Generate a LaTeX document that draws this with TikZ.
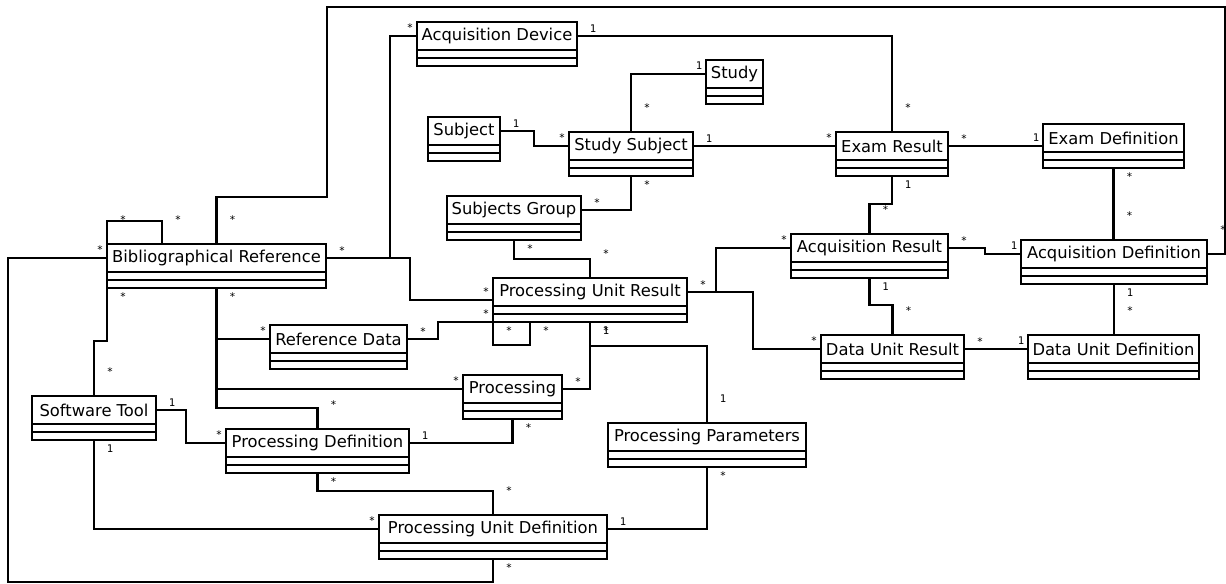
\documentclass[tikz,border=0pt]{standalone}
\usepackage{fontspec}
\setmainfont{DejaVu Sans}
\newfontfamily\multfont{DejaVu Sans Mono}

\begin{document}
\begin{tikzpicture}[x=0.02cm,y=-0.02cm,line width=1.2pt,
    font=\fontsize{9.3}{11}\selectfont,
    cw/.style={minimum width=#1*0.02cm},
    cls/.style={draw,anchor=north west,minimum height=0.56cm,inner sep=0pt,outer sep=0pt},
    comp/.style={draw,anchor=north,minimum height=0.32cm,inner sep=0pt,outer sep=0pt,
      path picture={\draw (path picture bounding box.west)--(path picture bounding box.east);}},
    mult/.style={inner sep=0pt,font=\multfont\fontsize{6}{7}\selectfont},
    mr/.style={mult,xshift=0.32cm,yshift=0.14cm},
    ml/.style={mult,xshift=-0.14cm,yshift=0.16cm},
    mb/.style={mult,xshift=0.32cm,yshift=-0.18cm},
    mt/.style={mult,xshift=0.32cm,yshift=0.48cm}]
    \useasboundingbox (0,0) rectangle (1226,583);
    % classes
    \node[cls,cw=160] (acqdev) at (417,22) {Acquisition Device};
    \node[comp,cw=160] (acqdevc) at (acqdev.south) {};
    \node[cls,cw=57] (study) at (706,60) {Study};
    \node[comp,cw=57] (studyc) at (study.south) {};
    \node[cls,cw=72] (subj) at (428,117) {Subject};
    \node[comp,cw=72] (subjc) at (subj.south) {};
    \node[cls,cw=124] (stsub) at (569,132) {Study Subject};
    \node[comp,cw=124] (stsubc) at (stsub.south) {};
    \node[cls,cw=112] (exres) at (836,132) {Exam Result};
    \node[comp,cw=112] (exresc) at (exres.south) {};
    \node[cls,cw=141] (exdef) at (1043,124) {Exam Definition};
    \node[comp,cw=141] (exdefc) at (exdef.south) {};
    \node[cls,cw=134] (sgroup) at (447,196) {Subjects Group};
    \node[comp,cw=134] (sgroupc) at (sgroup.south) {};
    \node[cls,cw=219] (bibref) at (107,244) {Bibliographical Reference};
    \node[comp,cw=219] (bibrefc) at (bibref.south) {};
    \node[cls,cw=157] (acqres) at (791,234) {Acquisition Result};
    \node[comp,cw=157] (acqresc) at (acqres.south) {};
    \node[cls,cw=186] (acqdef) at (1021,240) {Acquisition Definition};
    \node[comp,cw=186] (acqdefc) at (acqdef.south) {};
    \node[cls,cw=194] (pures) at (493,278) {Processing Unit Result};
    \node[comp,cw=194] (puresc) at (pures.south) {};
    \node[cls,cw=137] (refdata) at (270,325) {Reference Data};
    \node[comp,cw=137] (refdatac) at (refdata.south) {};
    \node[cls,cw=143] (dures) at (821,335) {Data Unit Result};
    \node[comp,cw=143] (duresc) at (dures.south) {};
    \node[cls,cw=171] (dudef) at (1028,335) {Data Unit Definition};
    \node[comp,cw=171] (dudefc) at (dudef.south) {};
    \node[cls,cw=99] (proc) at (463,375) {Processing};
    \node[comp,cw=99] (procc) at (proc.south) {};
    \node[cls,cw=124] (swtool) at (32,396) {Software Tool};
    \node[comp,cw=124] (swtoolc) at (swtool.south) {};
    \node[cls,cw=183] (pdef) at (226,429) {Processing Definition};
    \node[comp,cw=183] (pdefc) at (pdef.south) {};
    \node[cls,cw=198] (pparam) at (608,423) {Processing Parameters};
    \node[comp,cw=198] (pparamc) at (pparam.south) {};
    \node[cls,cw=228] (pudef) at (379,515) {Processing Unit Definition};
    \node[comp,cw=228] (pudefc) at (pudef.south) {};
    % associations
    \draw (bibref.north) |- node[mt,at start]{*} (327,197) |- (1225,7) |- node[mt,at end]{*} (acqdef.east);
    \draw (bibref.east) -- node[mr,at start]{*} ++(64,0) |- node[ml,at end]{*} (acqdev.west);
    \draw (bibref.east) -- ++(84,0) |- node[ml,at end]{*} ([yshift=-0.16cm]pures.west);
    \draw (bibref.north west) -- node[mt,at start]{*} ++(0,-23) -| node[mt,at end]{*} ([xshift=1.1cm]bibref.north west);
    \draw (bibref.west) -| node[ml,at start]{*} (8,582) -| node[mb,at end]{*} (pudefc.south);
    \draw (bibrefc.south west) -- node[mb,at start]{*} ++(0,53) -| node[mt,at end]{*} (swtool.north);
    \draw (bibrefc.south) |- node[mb,at start]{*} node[ml,at end]{*} (refdata.west);
    \draw (bibrefc.south) |- node[ml,at end]{*} (proc.west);
    \draw (bibrefc.south) -- ++(0,120) -| node[mt,at end]{*} (pdef.north);
    \draw (refdata.east) -- node[mr,at start]{*} ++(31,0) |- node[ml,at end]{*} (puresc.south west);
    \draw (puresc.south west) -- node[mb,at start]{*} ++(0,23) -| node[mb,at end]{*} ([xshift=0.74cm]puresc.south west);
    \draw (sgroupc.south) -- node[mb,at start]{*} ++(0,19) -| node[mt,at end]{*} (pures.north);
    \draw (sgroup.east) -| node[mr,at start]{*} node[mb,at end]{*} (stsubc.south);
    \draw (stsub.north) |- node[mt,at start]{*} node[ml,at end]{1} (study.west);
    \draw (subj.east) -- node[mr,at start]{1} ++(34,0) |- node[ml,at end]{*} (stsub.west);
    \draw (stsub.east) -- node[mr,at start]{1} node[ml,at end]{*} (exres.west);
    \draw (acqdev.east) -| node[mr,at start]{1} node[mt,at end]{*} (exres.north);
    \draw (exres.east) -- node[mr,at start]{*} node[ml,at end]{1} (exres.east -| exdef.west);
    \draw (exdefc.south) -- node[mb,at start]{*} node[mt,at end]{*} (exdefc.south |- acqdef.north);
    \draw (acqdefc.south) -- node[mb,at start]{1} node[mt,at end]{*} (acqdefc.south |- dudef.north);
    \draw (exresc.south) -- node[mb,at start]{1} ++(0,28) -| node[mt,at end]{*} (acqres.north);
    \draw (pures.east) -- node[mr,at start]{*} ++(29,0) |- node[ml,at end]{*} (acqres.west);
    \draw (pures.east) -- ++(66,0) |- node[ml,at end]{*} (dures.west);
    \draw (acqres.east) -- node[mr,at start]{*} ++(37,0) |- node[ml,at end]{1} (acqdef.west);
    \draw (acqresc.south) -- node[mb,at start]{1} ++(0,27) -| node[mt,at end]{*} (dures.north);
    \draw (dures.east) -- node[mr,at start]{*} node[ml,at end]{1} (dudef.west);
    \draw (puresc.south) |- node[mb,at start]{*} node[mr,at end]{*} (proc.east);
    \draw (puresc.south) -- node[mb,at start]{1} ++(0,24) -| node[mt,at end]{1} (pparam.north);
    \draw (procc.south) |- node[mb,at start]{*} node[mr,at end]{1} (pdef.east);
    \draw (swtool.east) -- node[mr,at start]{1} ++(30,0) |- node[ml,at end]{*} (pdef.west);
    \draw (swtoolc.south) |- node[mb,at start]{1} node[ml,at end]{*} (pudef.west);
    \draw (pdefc.south) -- node[mb,at start]{*} ++(0,18) -| node[mt,at end]{*} (pudef.north);
    \draw (pparamc.south) |- node[mb,at start]{*} node[mr,at end]{1} (pudef.east);
  \end{tikzpicture}
\end{document}
